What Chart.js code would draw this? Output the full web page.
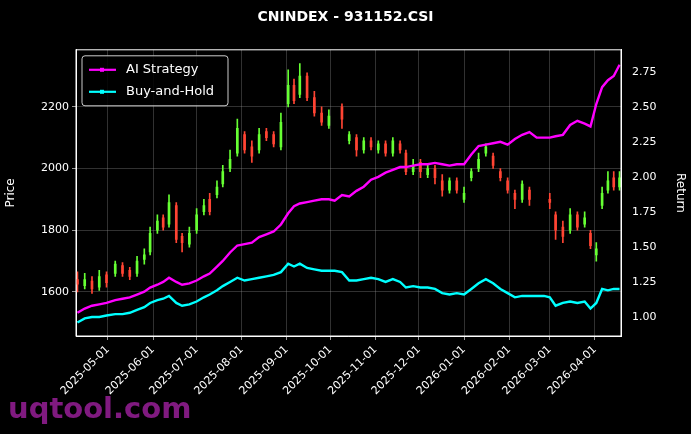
<!DOCTYPE html>
<html><head><meta charset="utf-8">
<script src="https://cdn.jsdelivr.net/npm/chart.js@4/dist/chart.umd.min.js"></script>
<style>html,body{margin:0;background:#000;}#w{width:691px;height:434px;}</style>
</head><body><div id="w"><canvas id="c"></canvas></div>
<script>
const dates=["2025-04-10","2025-04-15","2025-04-20","2025-04-25","2025-04-30","2025-05-06","2025-05-11","2025-05-16","2025-05-21","2025-05-26","2025-05-30","2025-06-04","2025-06-08","2025-06-12","2025-06-17","2025-06-21","2025-06-26","2025-07-01","2025-07-06","2025-07-10","2025-07-15","2025-07-19","2025-07-24","2025-07-29","2025-08-03","2025-08-08","2025-08-13","2025-08-18","2025-08-23","2025-08-28","2025-09-02","2025-09-06","2025-09-10","2025-09-15","2025-09-20","2025-09-25","2025-09-30","2025-10-04","2025-10-09","2025-10-14","2025-10-19","2025-10-24","2025-10-29","2025-11-03","2025-11-08","2025-11-13","2025-11-18","2025-11-22","2025-11-27","2025-12-02","2025-12-07","2025-12-12","2025-12-17","2025-12-22","2025-12-27","2026-01-01","2026-01-06","2026-01-11","2026-01-16","2026-01-21","2026-01-26","2026-01-31","2026-02-05","2026-02-10","2026-02-15","2026-02-20","2026-02-25","2026-03-01","2026-03-05","2026-03-10","2026-03-15","2026-03-20","2026-03-25","2026-03-29","2026-04-02","2026-04-06","2026-04-10","2026-04-14","2026-04-18"];
const openP=[1640,1620,1635,1615,1655,1660,1685,1670,1660,1705,1730,1800,1840,1820,1880,1780,1755,1800,1860,1900,1915,1950,2000,2050,2110,2070,2060,2120,2110,2070,2210,2270,2240,2300,2230,2180,2140,null,2200,2090,2100,2060,2090,2060,2080,2050,2080,2050,1990,2020,1980,2000,1960,1930,1960,1900,1970,2000,2050,2040,1990,1960,1920,1900,1930,null,null,1900,1850,1810,1800,1850,1820,1790,1720,1880,1930,1970,1940];
const closeP=[1625,1640,1610,1650,1630,1690,1660,1650,1700,1720,1790,1830,1810,1890,1770,1760,1790,1850,1880,1860,1940,1990,2030,2130,2060,2040,2110,2100,2080,2150,2270,2220,2300,2230,2180,2150,2170,null,2160,2110,2060,2090,2070,2080,2050,2090,2060,1990,2010,1990,2000,1970,1930,1960,1930,1920,1990,2030,2070,2010,1970,1930,1900,1950,1900,null,null,1890,1800,1780,1850,1810,1840,1750,1740,1920,1960,1940,1970];
const highP=[1665,1660,1650,1670,1665,1700,1695,1680,1715,1740,1810,1850,1850,1915,1890,1790,1810,1870,1900,1920,1960,2010,2060,2160,2120,2090,2130,2130,2120,2180,2320,2290,2340,2310,2250,2200,2190,null,2210,2120,2110,2100,2100,2090,2090,2100,2090,2060,2030,2030,2010,2010,1980,1970,1970,1940,2000,2050,2080,2050,2000,1970,1930,1960,1940,null,null,1920,1860,1830,1870,1860,1860,1800,1760,1940,1990,1990,1990];
const lowP=[1600,1610,1595,1605,1615,1650,1650,1640,1650,1690,1720,1790,1800,1810,1760,1730,1745,1790,1850,1850,1905,1940,1990,2040,2050,2020,2050,2090,2070,2060,2200,2210,2230,2220,2170,2140,2130,null,2130,2080,2040,2050,2060,2050,2040,2040,2050,1980,1980,1970,1970,1950,1910,1920,1920,1890,1960,1990,2040,2000,1960,1920,1870,1890,1880,null,null,1870,1770,1760,1790,1800,1810,1740,1700,1870,1920,1930,1930];
const aiStrategy=[1.03,1.06,1.08,1.09,1.10,1.12,1.13,1.14,1.16,1.18,1.21,1.23,1.25,1.28,1.25,1.23,1.24,1.26,1.29,1.31,1.36,1.40,1.46,1.51,1.52,1.53,1.57,1.59,1.61,1.66,1.74,1.79,1.81,1.82,1.83,1.84,1.84,1.83,1.87,1.86,1.90,1.93,1.98,2.00,2.03,2.05,2.07,2.07,2.08,2.09,2.09,2.10,2.09,2.08,2.09,2.09,2.16,2.22,2.23,2.24,2.25,2.23,2.27,2.30,2.32,2.28,2.28,2.28,2.29,2.30,2.37,2.40,2.38,2.36,2.52,2.64,2.69,2.72,2.80];
const buyHold=[0.96,0.99,1.00,1.00,1.01,1.02,1.02,1.03,1.05,1.07,1.10,1.12,1.13,1.15,1.10,1.08,1.09,1.11,1.14,1.16,1.19,1.22,1.25,1.28,1.26,1.27,1.28,1.29,1.30,1.32,1.38,1.36,1.38,1.35,1.34,1.33,1.33,1.33,1.32,1.26,1.26,1.27,1.28,1.27,1.25,1.27,1.25,1.21,1.22,1.21,1.21,1.20,1.17,1.16,1.17,1.16,1.20,1.24,1.27,1.24,1.20,1.17,1.14,1.15,1.15,1.15,1.15,1.14,1.08,1.10,1.11,1.10,1.11,1.06,1.10,1.20,1.19,1.20,1.20];
const monthTicks=["2025-05-01","2025-06-01","2025-07-01","2025-08-01","2025-09-01","2025-10-01","2025-11-01","2025-12-01","2026-01-01","2026-02-01","2026-03-01","2026-04-01"];

const base=Date.UTC(2025,4,1);
const dn=s=>{const [y,m,d]=s.split('-').map(Number);return (Date.UTC(y,m-1,d)-base)/864e5;};
const ds=n=>new Date(base+Math.round(n)*864e5).toISOString().slice(0,10);
const X=dates.map(dn);
const UP='#66ff33',DN='#ff4433';
const wick=[],body=[];
dates.forEach((d,i)=>{if(closeP[i]==null)return;const c=closeP[i]>=openP[i]?UP:DN;wick.push({x:X[i],y:[lowP[i],highP[i]],c});body.push({x:X[i],y:[openP[i],closeP[i]],c});});
const grid={color:'rgba(150,150,150,0.55)',borderDash:[3,3],lineWidth:0.6,drawTicks:true,tickColor:'#fff',tickLength:4};
const tk={color:'#fff',font:{family:'DejaVu Sans',size:11}};
const wm={id:'wm',afterDraw(ch){const g=ch.ctx,a=ch.chartArea;g.save();
 g.strokeStyle='#fff';g.lineWidth=1;g.strokeRect(a.left,a.top,a.right-a.left,a.bottom-a.top);
 const lx=a.left+6,ly=a.top+6;g.fillStyle='rgba(0,0,0,0.85)';g.strokeStyle='#ccc';g.beginPath();g.roundRect(lx,ly,146,50,3);g.fill();g.stroke();
 g.font='13px DejaVu Sans';g.textBaseline='middle';
 [['AI Strategy','#ff00ff',ly+14],['Buy-and-Hold','#00ffff',ly+36]].forEach(([t,c,y])=>{g.strokeStyle=c;g.lineWidth=2.2;g.beginPath();g.moveTo(lx+7,y);g.lineTo(lx+34,y);g.stroke();g.fillStyle=c;g.fillRect(lx+18,y-2,4,4);g.fillStyle='#fff';g.fillText(t,lx+44,y);});
 g.font='bold 29px DejaVu Sans';g.fillStyle='rgba(150,30,150,0.85)';g.textBaseline='alphabetic';g.fillText('uqtool.com',8,418);g.restore();}};
const bgp={id:'bg',beforeDraw(ch){const g=ch.ctx;g.save();g.fillStyle='#000';g.fillRect(0,0,ch.width,ch.height);g.restore();}};
new Chart(document.getElementById('c'),{
 data:{datasets:[
  {type:'line',label:'AI Strategy',data:X.map((x,i)=>({x,y:aiStrategy[i]})),yAxisID:'y2',borderColor:'#ff00ff',borderWidth:2.4,pointRadius:0,tension:0,order:1},
  {type:'line',label:'Buy-and-Hold',data:X.map((x,i)=>({x,y:buyHold[i]})),yAxisID:'y2',borderColor:'#00ffff',borderWidth:2.4,pointRadius:0,tension:0,order:1},
  {type:'bar',label:'wick',data:wick,yAxisID:'y',backgroundColor:wick.map(p=>p.c),barThickness:1,grouped:false,order:3},
  {type:'bar',label:'body',data:body,yAxisID:'y',backgroundColor:body.map(p=>p.c),barThickness:2,grouped:false,order:2}
 ]},
 options:{responsive:true,maintainAspectRatio:false,animation:false,
  layout:{padding:0},
  plugins:{title:{display:true,text:'CNINDEX - 931152.CSI',color:'#fff',font:{family:'DejaVu Sans',size:14,weight:'bold'},padding:{top:9,bottom:24}},
   legend:{display:false},tooltip:{enabled:false}},
  scales:{
   x:{type:'linear',offset:false,min:dn('2025-04-09'),max:dn('2026-04-19'),grid:{...grid,offset:false},border:{color:'#fff'},
    afterBuildTicks:s=>{s.ticks=monthTicks.map(t=>({value:dn(t)}));},
    ticks:{...tk,maxRotation:45,minRotation:45,callback:v=>ds(v)},
    afterFit:s=>{s.height=98;}},
   y:{position:'left',min:1457,max:2385,grid,border:{color:'#fff'},ticks:{...tk,callback:v=>String(v)},title:{display:true,text:'Price',color:'#fff',font:{family:'DejaVu Sans',size:12}},afterFit:s=>{s.width=76;},afterBuildTicks:s=>{s.ticks=[1600,1800,2000,2200].map(v=>({value:v}));}},
   y2:{position:'right',min:0.864,max:2.907,grid:{display:false,drawOnChartArea:false},border:{color:'#fff'},ticks:{...tk,callback:v=>v.toFixed(2)},title:{display:true,text:'Return',color:'#fff',font:{family:'DejaVu Sans',size:12}},afterFit:s=>{s.width=70;},afterBuildTicks:s=>{s.ticks=[1,1.25,1.5,1.75,2,2.25,2.5,2.75].map(v=>({value:v}));}}
  }}
 ,plugins:[bgp,wm]});
</script></body></html>
